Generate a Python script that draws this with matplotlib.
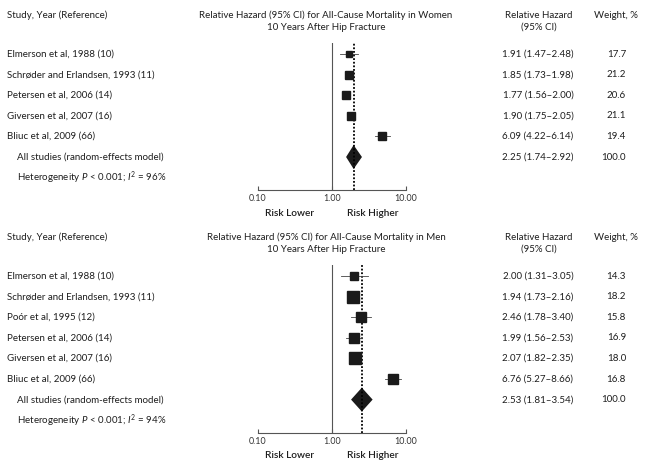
import matplotlib
matplotlib.use("Agg")
import matplotlib.pyplot as plt
import matplotlib.transforms as mtransforms

plt.rcParams['font.family'] = ['Lato', 'DejaVu Sans']
plt.rcParams['mathtext.fontset'] = 'custom'
plt.rcParams['mathtext.rm'] = 'Lato'
plt.rcParams['mathtext.it'] = 'Lato:italic'

# women -- text columns as printed
w_studies = ['Elmerson et al, 1988 (10)', 'Schrøder and Erlandsen, 1993 (11)',
             'Petersen et al, 2006 (14)', 'Giversen et al, 2007 (16)', 'Bliuc et al, 2009 (66)']
w_ci_text = ['1.91 (1.47\u20132.48)', '1.85 (1.73\u20131.98)', '1.77 (1.56\u20132.00)',
             '1.90 (1.75\u20132.05)', '6.09 (4.22\u20136.14)']
w_weight = [17.7, 21.2, 20.6, 21.1, 19.4]
w_pool_text = '2.25 (1.74\u20132.92)'
w_i2 = 96
# women -- marks as drawn in the figure
w_hr = [1.70, 1.70, 1.57, 1.78, 4.80]
w_lo = [1.30, 1.62, 1.50, 1.70, 3.86]
w_hi = [2.25, 1.78, 1.72, 1.86, 6.03]
w_pool = (1.96, 1.55, 2.54)

# men
m_studies = ['Elmerson et al, 1988 (10)', 'Schrøder and Erlandsen, 1993 (11)', 'Poór et al, 1995 (12)',
             'Petersen et al, 2006 (14)', 'Giversen et al, 2007 (16)', 'Bliuc et al, 2009 (66)']
m_ci_text = ['2.00 (1.31\u20133.05)', '1.94 (1.73\u20132.16)', '2.46 (1.78\u20133.40)',
             '1.99 (1.56\u20132.53)', '2.07 (1.82\u20132.35)', '6.76 (5.27\u20138.66)']
m_weight = [14.3, 18.2, 15.8, 16.9, 18.0, 16.8]
m_pool_text = '2.53 (1.81\u20133.54)'
m_i2 = 94
m_hr = [2.00, 1.94, 2.46, 1.99, 2.07, 6.76]
m_lo = [1.31, 1.73, 1.78, 1.56, 1.82, 5.27]
m_hi = [3.05, 2.16, 3.40, 2.53, 2.35, 8.66]
m_pool = (2.53, 1.81, 3.54)

W, H = 649, 470
fig = plt.figure(figsize=(W / 100, H / 100), dpi=100)
FS = 7.0
GRAY = '#555555'
TXT = '#1e1e1e'


def panel(top_px, bot_px, studies, ci_text, hr, lo, hi, weight, pool, pool_text, i2, sex, msc):
    n = len(studies)
    step = 20.6
    ax = fig.add_axes([258 / W, 1 - bot_px / H, 148 / W, (bot_px - top_px) / H])
    ax.set_xscale('log')
    ax.set_xlim(0.1, 10)
    ytop = -(11 / step)
    ybot = ytop + (bot_px - top_px) / step
    ax.set_ylim(ybot, ytop)
    for s in ['top', 'right', 'left']:
        ax.spines[s].set_visible(False)
    ax.spines['bottom'].set_color(GRAY)
    ax.spines['bottom'].set_linewidth(0.8)
    ax.set_yticks([])
    ax.set_xticks([0.1, 1, 10])
    ax.set_xticklabels(['0.10', '1.00', '10.00'], fontsize=FS - 0.6, color='#333333')
    ax.xaxis.set_minor_locator(matplotlib.ticker.NullLocator())
    ax.tick_params(axis='x', direction='in', length=3, width=0.8, color=GRAY, pad=3)
    ax.axvline(1, color=GRAY, lw=0.8)
    ax.axvline(pool[0], color='black', lw=1.3, ls=(0, (1, 1)))
    for i in range(n):
        ax.plot([lo[i], hi[i]], [i, i], color='#444444', lw=0.6)
        ax.plot(hr[i], i, marker='s', color='#1a1a1a', ms=weight[i] * msc, mec='#1a1a1a')
    yd = n
    ax.fill([pool[1], pool[0], pool[2], pool[0]], [yd, yd - 0.58, yd, yd + 0.58], color='#1a1a1a', lw=0)
    ax.set_facecolor('none')

    tr = mtransforms.blended_transform_factory(fig.transFigure, ax.transData)
    for i in range(n):
        fig.text(7 / W, i, studies[i], transform=tr, fontsize=FS, va='center', color=TXT)
        fig.text(538 / W, i, ci_text[i], transform=tr, fontsize=FS, va='center', ha='center', color=TXT)
        fig.text(626 / W, i, '%.1f' % weight[i], transform=tr, fontsize=FS, va='center', ha='right', color=TXT)
    fig.text(17 / W, n, 'All studies (random-effects model)', transform=tr, fontsize=FS, va='center', color=TXT)
    fig.text(538 / W, n, pool_text, transform=tr, fontsize=FS, va='center', ha='center', color=TXT)
    fig.text(626 / W, n, '100.0', transform=tr, fontsize=FS, va='center', ha='right', color=TXT)
    fig.text(17 / W, n + 1, 'Heterogeneity $P$ < 0.001; $I^2$ = %d%%' % i2, transform=tr,
             fontsize=FS, va='center', color=TXT)

    # headers
    hy = 1 - (top_px - 28) / H
    hy2 = 1 - (top_px - 16) / H
    fig.text(7 / W, hy, 'Study, Year (Reference)', fontsize=FS, va='center', color=TXT)
    fig.text(326 / W, hy, 'Relative Hazard (95% CI) for All-Cause Mortality in ' + sex,
             fontsize=FS, va='center', ha='center', color=TXT)
    fig.text(326 / W, hy2, '10 Years After Hip Fracture', fontsize=FS, va='center', ha='center', color=TXT)
    fig.text(539 / W, hy, 'Relative Hazard', fontsize=FS, va='center', ha='center', color=TXT)
    fig.text(539 / W, hy2, '(95% CI)', fontsize=FS, va='center', ha='center', color=TXT)
    fig.text(616 / W, hy, 'Weight, %', fontsize=FS, va='center', ha='center', color=TXT)

    ly = 1 - (bot_px + 23) / H
    fig.text(290 / W, ly, 'Risk Lower', fontsize=FS + 0.3, va='center', ha='center', weight='semibold', color=TXT)
    fig.text(373 / W, ly, 'Risk Higher', fontsize=FS + 0.3, va='center', ha='center', weight='semibold', color=TXT)


panel(43, 190, w_studies, w_ci_text, w_hr, w_lo, w_hi, w_weight, w_pool, w_pool_text, w_i2, 'Women', 0.28)
panel(265, 433, m_studies, m_ci_text, m_hr, m_lo, m_hi, m_weight, m_pool, m_pool_text, m_i2, 'Men', 0.45)

fig.savefig('out.png', dpi=100)
